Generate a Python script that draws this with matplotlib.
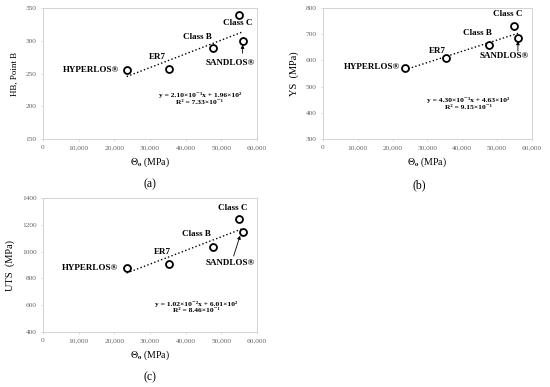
import numpy as np
import matplotlib
matplotlib.use("Agg")
from matplotlib import pyplot as plt

plt.rcParams['font.family'] = ['Liberation Serif', 'DejaVu Serif']
plt.rcParams['mathtext.fontset'] = 'stix'

# data
materials = ['HYPERLOS®', 'ER7', 'Class B', 'Class C', 'SANDLOS®']
theta0 = [23500, 35300, 47700, 54900, 56000]
hb = [255, 257, 289, 339, 300]
ys = [572, 610, 659, 730, 687]
uts = [880, 907, 1037, 1241, 1144]

slopes = [2.10e-3, 4.30e-3, 1.02e-2]
intercepts = [1.96e2, 4.63e2, 6.01e2]
equations = ['y = 2.10×10⁻³x + 1.96×10²\nR² = 7.33×10⁻¹',
             'y = 4.30×10⁻³x + 4.63×10²\nR² = 9.15×10⁻¹',
             'y = 1.02×10⁻²x + 6.01×10²\nR² = 8.46×10⁻¹']
ylabels = ['HB, Point B', 'YS  (MPa)', 'UTS  (MPa)']
ylims = [(150, 350), (300, 800), (400, 1400)]
yticks = [range(150, 351, 50), range(300, 801, 100), range(400, 1401, 200)]
captions = ['(a)', '(b)', '(c)']


def fmt_thousands(v, pos):
    return '{:,.0f}'.format(v)


fig = plt.figure(figsize=(5.5, 3.87), dpi=100)
axes = [fig.add_axes([0.078, 0.641, 0.389, 0.338]),
        fig.add_axes([0.587, 0.641, 0.380, 0.338]),
        fig.add_axes([0.078, 0.142, 0.389, 0.346])]

# label positions (data coords) and alignment per panel
label_pos = [
    [(21500, 255, 'right'), (32000, 275, 'center'), (43200, 306, 'center'),
     (54700, 327, 'center'), (52400, 266, 'center')],
    [(22100, 575, 'right'), (33000, 638, 'center'), (44500, 704, 'center'),
     (53100, 777, 'center'), (52200, 616, 'center')],
    [(21000, 878, 'right'), (33600, 997, 'center'), (43100, 1131, 'center'),
     (53200, 1325, 'center'), (52400, 915, 'center')],
]
arrows = [((56000, 281), (56000, 294)),
          ((56000, 636), (56000, 674)),
          ((53500, 968), (55300, 1120))]
eq_pos = [(44000, 212), (41700, 435), (43100, 587)]
ylab_size = [6.5, 7.5, 7.5]
cap_xy = [(0.272, 0.525), (0.763, 0.522), (0.272, 0.026)]

yvals = [hb, ys, uts]
for i, ax in enumerate(axes):
    x = np.array(theta0)
    xs = np.array([min(theta0), max(theta0)])
    ax.plot(xs, slopes[i] * xs + intercepts[i], ls=':', color='black', lw=1.0)
    ax.plot(x, yvals[i], 'o', mfc='white', mec='black', mew=1.3, ms=5, zorder=3)

    for name, (tx, ty, ha) in zip(materials, label_pos[i]):
        ax.text(tx, ty, name, ha=ha, va='center', fontsize=6.5, fontweight='bold')
    ax.annotate('', xy=arrows[i][1], xytext=arrows[i][0],
                arrowprops=dict(arrowstyle='-|>', color='black', lw=0.6,
                                mutation_scale=5, shrinkA=0, shrinkB=0))
    ax.text(eq_pos[i][0], eq_pos[i][1], equations[i], ha='center', va='center',
            fontsize=5.4, fontweight='bold', linespacing=1.45)

    ax.set_xlim(0, 60000)
    ax.set_ylim(*ylims[i])
    ax.set_xticks(range(0, 60001, 10000))
    ax.set_yticks(list(yticks[i]))
    ax.xaxis.set_major_formatter(plt.FuncFormatter(fmt_thousands))
    ax.tick_params(labelsize=5.3, labelcolor='#666666', color='#cccccc',
                   length=1.5, width=0.5, pad=3)
    for s in ax.spines.values():
        s.set_color('#cccccc')
        s.set_linewidth(0.6)
    ax.set_xlabel(r'$\mathit{\Theta}_{\mathbf{o}}$ (MPa)', fontsize=7, labelpad=4)
    ax.set_ylabel(ylabels[i], fontsize=ylab_size[i], labelpad=5)
    fig.text(cap_xy[i][0], cap_xy[i][1], captions[i], ha='center', va='center',
             fontsize=8.5)

fig.savefig('out.png', dpi=100)
